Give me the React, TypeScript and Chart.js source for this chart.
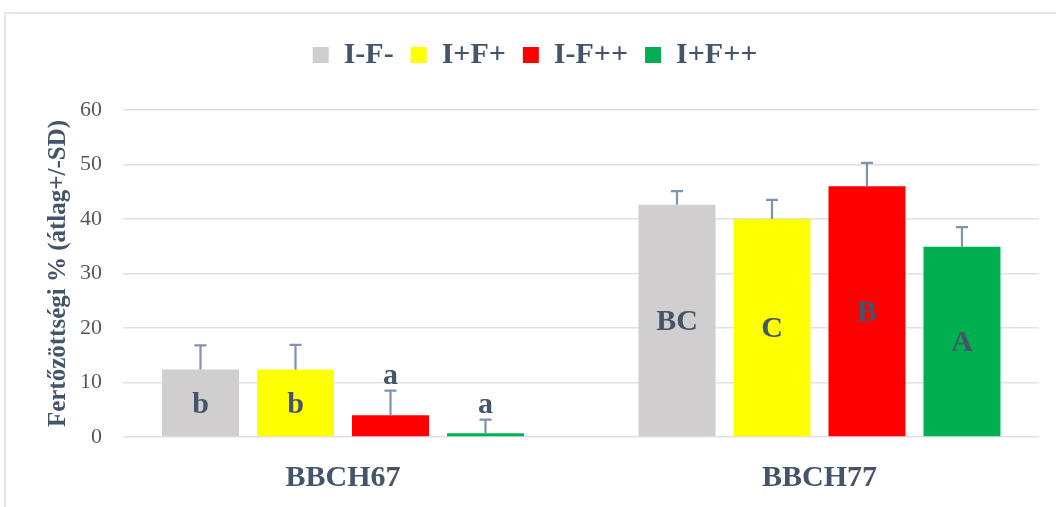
import React, { useEffect, useRef } from "react";
import { Chart, registerables } from "chart.js";

Chart.register(...registerables);

const categories = ["BBCH67", "BBCH77"];
const seriesNames = ["I-F-", "I+F+", "I-F++", "I+F++"];
const seriesColors = ["#D0CECE", "#FFFF00", "#FF0000", "#00B050"];
const meanIFminus = [12.4, 42.6];
const meanIFplus = [12.4, 40.0];
const meanIminusFpp = [4.0, 46.0];
const meanIplusFpp = [0.7, 34.9];
const sdIFminus = [4.4, 2.5];
const sdIFplus = [4.5, 3.5];
const sdIminusFpp = [4.5, 4.3];
const sdIplusFpp = [2.5, 3.6];
const lettersIFminus = ["b", "BC"];
const lettersIFplus = ["b", "C"];
const lettersIminusFpp = ["a", "B"];
const lettersIplusFpp = ["a", "A"];
const letterPlaceIFminus = ["in", "in"];
const letterPlaceIFplus = ["in", "in"];
const letterPlaceIminusFpp = ["above", "in"];
const letterPlaceIplusFpp = ["above", "in"];
const yTicksMin = 0;
const yTicksMax = 60;
const yTickStep = 10;
const yTitle = "Fertőzöttségi % (átlag+/-SD)";

const means = [meanIFminus, meanIFplus, meanIminusFpp, meanIplusFpp];
const sds = [sdIFminus, sdIFplus, sdIminusFpp, sdIplusFpp];
const letters = [lettersIFminus, lettersIFplus, lettersIminusFpp, lettersIplusFpp];
const places = [letterPlaceIFminus, letterPlaceIFplus, letterPlaceIminusFpp, letterPlaceIplusFpp];

const FONT = "'Times New Roman', 'Liberation Serif', serif";
const TEXT = "#44546A";

const legendSpace = {
  id: "legendSpace",
  beforeInit(chart: any) {
    const orig = chart.legend.fit;
    chart.legend.fit = function () {
      orig.call(this);
      this.height += 30;
    };
  },
};

const errorAndLetters = {
  id: "errorAndLetters",
  afterDatasetsDraw(chart: any) {
    const ctx = chart.ctx;
    const yScale = chart.scales.y;
    ctx.save();
    chart.data.datasets.forEach((ds: any, i: number) => {
      const meta = chart.getDatasetMeta(i);
      meta.data.forEach((el: any, j: number) => {
        const m = means[i][j];
        const top = yScale.getPixelForValue(m + sds[i][j]);
        ctx.strokeStyle = "#7F93AE";
        ctx.lineWidth = 2.2;
        ctx.beginPath();
        ctx.moveTo(el.x, el.y);
        ctx.lineTo(el.x, top);
        ctx.moveTo(el.x - 6, top);
        ctx.lineTo(el.x + 6, top);
        ctx.stroke();
        ctx.fillStyle = TEXT;
        ctx.font = `bold 30px ${FONT}`;
        ctx.textAlign = "center";
        if (places[i][j] === "above") {
          ctx.textBaseline = "alphabetic";
          ctx.fillText(letters[i][j], el.x, top - 7);
        } else {
          ctx.textBaseline = "middle";
          ctx.fillText(letters[i][j], el.x, (el.y + el.base) / 2 + 2);
        }
      });
    });
    ctx.restore();
  },
};

export default function App() {
  const ref = useRef<HTMLCanvasElement>(null);
  useEffect(() => {
    if (!ref.current) return;
    const chart = new Chart(ref.current, {
      type: "bar",
      data: {
        datasets: seriesNames.map((name, i) => ({
          label: name,
          data: means[i].map((v, j) => ({ x: j, y: v })),
          backgroundColor: seriesColors[i],
          borderWidth: 0,
          categoryPercentage: 0.7975,
          barPercentage: 0.8105,
        })),
      },
      options: {
        responsive: false,
        animation: false,
        layout: { padding: { top: 23, left: 31, right: 17, bottom: 11 } },
        plugins: {
          tooltip: { enabled: false },
          legend: {
            position: "top",
            labels: {
              boxWidth: 16,
              boxHeight: 16,
              padding: 17,
              color: TEXT,
              font: { family: FONT, size: 30, weight: "bold" },
            },
          },
        },
        scales: {
          x: {
            type: "linear",
            offset: false,
            min: -0.4617,
            max: 1.4607,
            grid: { display: false, drawTicks: true, tickLength: 23, offset: false },
            border: { display: false },
            afterBuildTicks: (scale: any) => {
              scale.ticks = categories.map((_, i) => ({ value: i }));
            },
            ticks: {
              padding: 0,
              color: TEXT,
              font: { family: FONT, size: 30, weight: "bold" },
              callback: (v: any) => categories[v],
              autoSkip: false,
              maxRotation: 0,
            },
          },
          y: {
            min: yTicksMin,
            max: yTicksMax,
            grid: { color: "#DEE2E8", lineWidth: 1.5, drawTicks: true, tickLength: 21, tickColor: "rgba(0,0,0,0)" },
            border: { display: false },
            ticks: {
              stepSize: yTickStep,
              padding: 0,
              color: "#595959",
              font: { family: FONT, size: 22 },
            },
            title: {
              display: true,
              text: yTitle,
              color: TEXT,
              font: { family: FONT, size: 25, weight: "bold" },
              padding: { top: 13, bottom: 6 },
            },
          },
        },
      },
      plugins: [legendSpace, errorAndLetters],
    });
    return () => chart.destroy();
  }, []);
  return (
    <div style={{ position: "fixed", left: 0, top: 0, width: 1056, height: 507, background: "#fff", overflow: "hidden" }}>
      <canvas ref={ref} width={1056} height={507} style={{ position: "absolute", left: 0, top: 0 }} />
      <div style={{ position: "absolute", left: 4, top: 12, width: 1100, height: 600, border: "2px solid #E3E7ED", pointerEvents: "none" }} />
    </div>
  );
}
